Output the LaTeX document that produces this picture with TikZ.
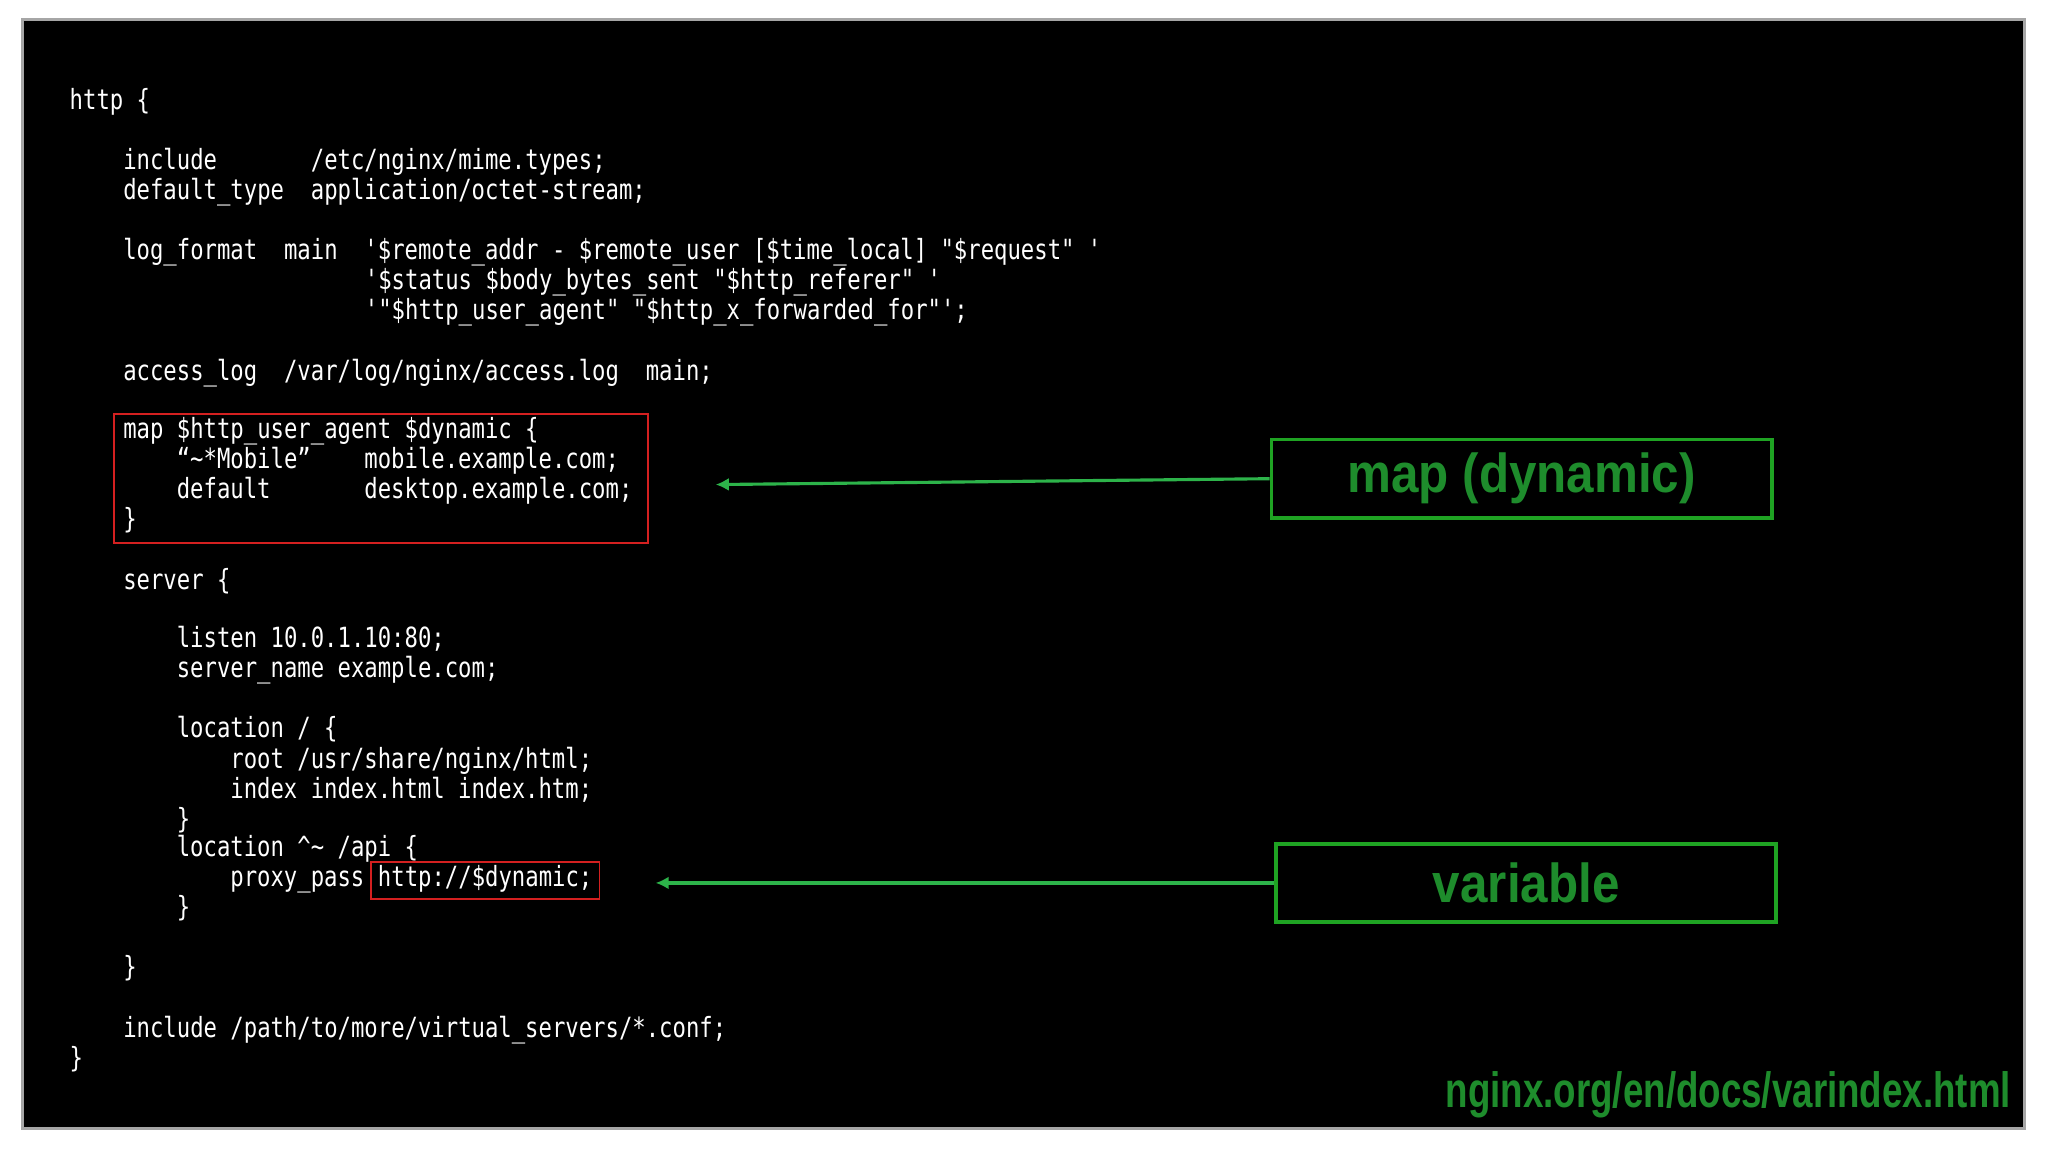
\documentclass[tikz,border=0pt]{standalone}
\usepackage{fontspec}
\newfontfamily\code[FakeStretch=0.8,Ligatures=ResetAll]{DejaVu Sans Mono}
\newfontfamily\lab[FakeStretch=0.9]{Liberation Sans}
\newfontfamily\foot[FakeStretch=0.74]{Liberation Sans}
\newcommand\sq{\char"27\relax}
\newcommand\dq{\char"22\relax}
\definecolor{labgreen}{HTML}{1E8C2C}
\definecolor{boxgreen}{HTML}{1FA323}
\definecolor{arrgreen}{HTML}{2DB34A}
\definecolor{redbox}{HTML}{D42020}
\tikzset{
  ln/.style={anchor=base west,inner sep=0pt,text=white,font=\code\fontsize{10.65pt}{12pt}\selectfont},
  gbox/.style={draw=boxgreen,line width=1.5pt,minimum width=383*0.5pt,minimum height=60*0.5pt,inner sep=0pt,text=labgreen,font=\lab\bfseries\fontsize{21pt}{24pt}\selectfont},
  rbox/.style={draw=redbox,line width=0.7pt},
  garrow/.style={draw=arrgreen,line width=1.2pt,-{Latex[length=5pt,width=5pt]}}
}
\usetikzlibrary{arrows.meta}
\begin{document}
\begin{tikzpicture}[x=0.5pt,y=-0.5pt]
\useasboundingbox (0,0) rectangle (1568,882);
\fill[white] (0,0) rectangle (1568,882);
\filldraw[fill=black,draw=gray!70,line width=1pt] (17,15) rectangle (1550,864);
\node[ln] (l1) at (53,84) {http \{};
\node[ln] (l2) at (94,130) {include\ \ \ \ \ \ \ /etc/nginx/mime.types;};
\node[ln] (l3) at (94,153) {default\_type\ \ application/octet-stream;};
\node[ln] (l4) at (94,199) {log\_format\ \ main\ \ \sq\$remote\_addr - \$remote\_user [\$time\_local] \dq\$request\dq\ \sq};
\node[ln] (l5) at (279,222) {\sq\$status \$body\_bytes\_sent \dq\$http\_referer\dq\ \sq};
\node[ln] (l6) at (279,245) {\sq\dq\$http\_user\_agent\dq\ \dq\$http\_x\_forwarded\_for\dq\sq;};
\node[ln] (l7) at (94,291) {access\_log\ \ /var/log/nginx/access.log\ \ main;};
\node[ln] (m1) at (94,336) {map \$http\_user\_agent \$dynamic \{};
\node[ln] (m2) at (135,359) {“\textasciitilde*Mobile”\ \ \ \ mobile.example.com;};
\node[ln] (m3) at (135,382) {default\ \ \ \ \ \ \ desktop.example.com;};
\node[ln] (m4) at (94,405) {\}};
\node[ln] (s1) at (94,451) {server \{};
\node[ln] (s2) at (135,496) {listen 10.0.1.10:80;};
\node[ln] (s3) at (135,519) {server\_name example.com;};
\node[ln] (s4) at (135,565) {location / \{};
\node[ln] (s5) at (176,588) {root /usr/share/nginx/html;};
\node[ln] (s6) at (176,611) {index index.html index.htm;};
\node[ln] (s7) at (135,634) {\}};
\node[ln] (s8) at (135,656) {location \textasciicircum\textasciitilde\ /api \{};
\node[ln] (s9) at (176,679) {proxy\_pass};
\node[ln] (s10) at (289,679) {http://\$dynamic;};
\node[ln] (s11) at (135,702) {\}};
\node[ln] (s12) at (94,748) {\}};
\node[ln] (s13) at (94,794) {include /path/to/more/virtual\_servers/*.conf;};
\node[ln] (s14) at (53,817) {\}};
\draw[rbox] (87,317) rectangle (496,416);
\draw[rbox] (284,660) rectangle (459,688);
\coordinate (mapend) at (548,371);
\coordinate (varend) at (502,676);
\node[gbox] (gmap) at (1165,366.5) {map (dynamic)};
\node[gbox] (gvar) at (1168.5,676) {variable};
\draw[garrow] (gmap.west) -- (mapend);
\draw[garrow] (gvar.west) -- (varend);
\node[anchor=base east,inner sep=0pt,text=labgreen,font=\foot\bfseries\fontsize{19pt}{22pt}\selectfont] (url) at (1540,848) {nginx.org/en/docs/varindex.html};
\end{tikzpicture}
\end{document}
